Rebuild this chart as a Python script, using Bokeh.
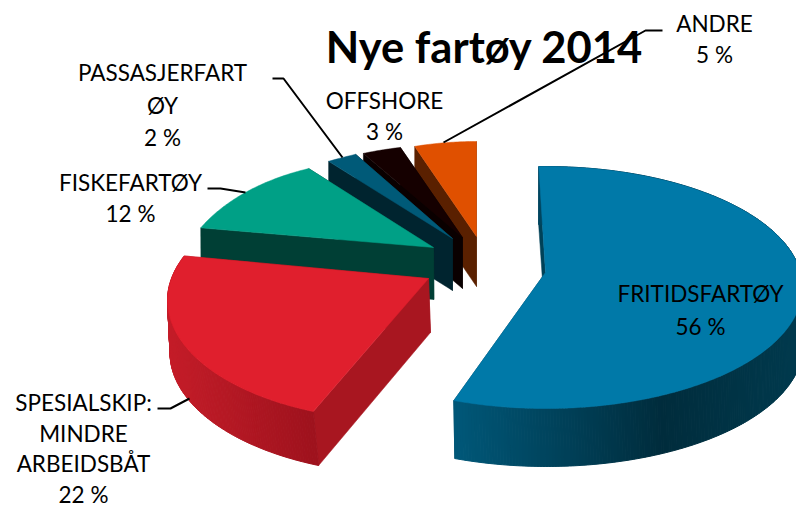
import math
from bokeh.plotting import figure
from bokeh.models import Range1d
from bokeh.core.properties import value
from bokeh.embed import file_html
from bokeh.resources import INLINE

TITLE = "Nye fartøy 2014"
CATEGORIES = ["FRITIDSFARTØY", "SPESIALSKIP: MINDRE ARBEIDSBÅT", "FISKEFARTØY",
              "PASSASJERFARTØY", "OFFSHORE", "ANDRE"]
VALUES = [56, 22, 12, 2, 3, 5]

LABEL_LINES = [["FRITIDSFARTØY"], ["SPESIALSKIP:", "MINDRE", "ARBEIDSBÅT"], ["FISKEFARTØY"],
               ["PASSASJERFART", "ØY"], ["OFFSHORE"], ["ANDRE"]]

TOP = ["#0079A8", "#E01F2D", "#00A086", "#005A78", "#150000", "#E05000"]
WALL = ["#004258", "#A81620", "#003F35", "#00242F", "#0A0000", "#5A2000"]
# gradient of the curved side: (sin of angle, colour)
ARC = [[(-0.4, "#005A7C"), (0.45, "#002C3C"), (1.0, "#003A4E")],
       [(-1.0, "#C41C28"), (-0.35, "#9C111C")],
       None, None, None, None]

# layout per slice: ellipse centre, radii, apex, thickness, angle corrections of the projection
CX = [545, 402, 379, 478, 466, 476]
CY = [287, 300, 290, 245, 223, 241]
RX = [257, 235, 204, 255, 214, 200]
RY = [121, 120, 130, 104, 80, 100]
AX = [545, 428, 433, 452, 462, 476]
AY = [272, 278, 247, 238, 237, 236]
THICK = [58, 54, 52, 52, 51, 50]
LEAN = [1, 5, 1, 0, 0, 0]
D0 = [-1.5, 0.7, 18, 0, 0, 0]
D1 = [-0.7, 11, 15.7, 0, 0, 0]
DRAW_ORDER = [5, 4, 3, 2, 1, 0]

LABEL_X = [700, 83, 130, 162, 384, 714]
LABEL_Y = [293, 402, 182, 72, 100, 23]
LABEL_STEP = [33, 30.7, 31, 32.5, 31, 31]
LEADERS = [None, [(157, 408), (170, 408), (189, 398)], [(207, 188), (220, 188), (245, 192)],
           [(272, 78), (283, 78), (342, 157)], None, [(443, 142), (645, 30), (662, 30)]]


def hexmix(a, b, f):
    ca = [int(a[i:i + 2], 16) for i in (1, 3, 5)]
    cb = [int(b[i:i + 2], 16) for i in (1, 3, 5)]
    return "#%02x%02x%02x" % tuple(round(x + (y - x) * f) for x, y in zip(ca, cb))


def grad(stops, s):
    if s <= stops[0][0]:
        return stops[0][1]
    for (s0, c0), (s1, c1) in zip(stops, stops[1:]):
        if s <= s1:
            return hexmix(c0, c1, (s - s0) / (s1 - s0))
    return stops[-1][1]


p = figure(width=796, height=507, output_backend="svg", toolbar_location=None,
           x_range=Range1d(0, 796), y_range=Range1d(507, 0), min_border=0)
p.axis.visible = False
p.grid.visible = False
p.outline_line_color = None
p.background_fill_color = "white"

total = sum(VALUES)
starts, acc = [], 0.0
for v in VALUES:
    starts.append(acc)
    acc += v * 360.0 / total

for i in DRAW_ORDER:
    a0 = starts[i] + D0[i]
    a1 = starts[i] + VALUES[i] * 360.0 / total + D1[i]
    n = max(8, int(abs(a1 - a0) * 1.5))
    th = [math.radians(a0 + (a1 - a0) * k / n) for k in range(n + 1)]
    xs = [CX[i] + RX[i] * math.sin(t) for t in th]
    ys = [CY[i] - RY[i] * math.cos(t) for t in th]
    ax, ay, t = AX[i], AY[i], THICK[i]

    def lean(y):
        return LEAN[i] * (0.4 + 0.6 * (y - ay) / RY[i])

    # end wall, then start wall
    p.patch([xs[-1], ax, ax + lean(ay), xs[-1] + lean(ys[-1])], [ys[-1], ay, ay + t, ys[-1] + t],
            fill_color=WALL[i], line_color=WALL[i], line_width=0.5)
    p.patch([xs[0], ax, ax + lean(ay), xs[0] + lean(ys[0])], [ys[0], ay, ay + t, ys[0] + t],
            fill_color=WALL[i], line_color=WALL[i], line_width=0.5)
    # curved side
    if ARC[i]:
        qx, qy, qc = [], [], []
        for k in range(n):
            qx.append([xs[k], xs[k + 1], xs[k + 1] + lean(ys[k + 1]), xs[k] + lean(ys[k])])
            qy.append([ys[k], ys[k + 1], ys[k + 1] + t, ys[k] + t])
            qc.append(grad(ARC[i], math.sin((th[k] + th[k + 1]) / 2)))
        p.patches(qx, qy, fill_color=qc, line_color=qc, line_width=1)
    # top face
    p.patch(xs + [ax], ys + [ay], fill_color=TOP[i], line_color=TOP[i], line_width=0.5)

font = value("Lato")
p.text([484], [45], text=[TITLE], text_font=font, text_font_style="bold", text_font_size="43.5px",
       text_align="center", text_baseline="middle", text_color="#000000")

for i, pts in enumerate(LEADERS):
    if pts:
        p.line([q[0] for q in pts], [q[1] for q in pts], line_color="#000000", line_width=2)

for i, lines in enumerate(LABEL_LINES):
    rows = lines + [f"{VALUES[i]} %"]
    for j, row in enumerate(rows):
        p.text([LABEL_X[i]], [LABEL_Y[i] + j * LABEL_STEP[i]], text=[row], text_font=font,
               text_font_size="22.5px", text_align="center", text_baseline="middle",
               text_color="#000000")

open("out.html", "w").write(file_html(p, INLINE))
